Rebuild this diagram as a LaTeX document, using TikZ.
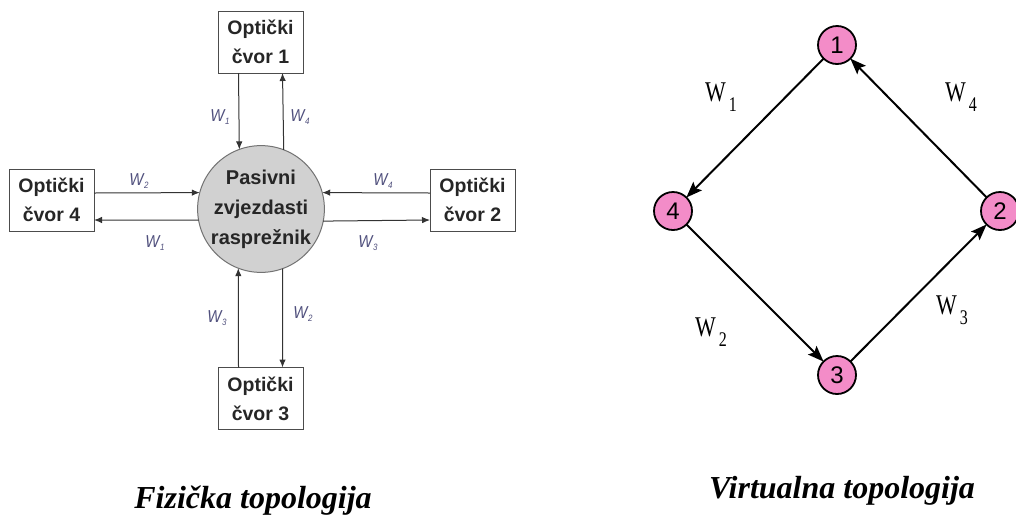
\documentclass[tikz,border=0pt]{standalone}
\usepackage{fontspec}
\setmainfont{Liberation Serif}
\newfontfamily\arialf{Liberation Sans}
\usetikzlibrary{arrows.meta}
\definecolor{pinkn}{RGB}{243,140,200}
\definecolor{wcol}{RGB}{80,80,125}
\newcommand{\wsmall}[1]{\scalebox{1}[1.15]{W\hspace{0.5pt}\raisebox{-2.5pt}{\fontsize{8}{8}\selectfont #1}}}
\newcommand{\wbig}[1]{\scalebox{1}[1.3]{W\hspace{3pt}\raisebox{-8pt}{\fontsize{16}{16}\selectfont #1}}}
\begin{document}
\begin{tikzpicture}[x=1pt,y=-1pt,
  box/.style={draw=black!70, line width=1pt, minimum width=85pt, minimum height=62pt,
    inner sep=0pt, outer sep=0pt, align=center, text=black!85,
    font=\arialf\bfseries\fontsize{19.5}{29}\selectfont},
  hub/.style={circle, draw=black!55, fill=black!18, line width=1pt, minimum size=124pt,
    inner sep=0pt, outer sep=0pt, align=center, text=black!85,
    font=\arialf\bfseries\fontsize{20}{30}\selectfont},
  link/.style={draw=black!80, line width=1pt, -{Latex[length=8pt,width=6.5pt]}},
  wl/.style={text=wcol, inner sep=0pt, font=\arialf\itshape\fontsize{15}{15}\selectfont},
  vnode/.style={circle, draw=black, fill=pinkn, line width=1.8pt, minimum size=38pt,
    inner sep=0pt, outer sep=0pt, font=\arialf\fontsize{24}{24}\selectfont},
  varc/.style={line width=2pt, -{Stealth[length=16pt,width=12pt,inset=3pt]}},
  vl/.style={inner sep=0pt, font=\fontsize{22}{22}\selectfont},
  title/.style={inner sep=0pt, anchor=base, font=\bfseries\itshape\fontsize{32}{32}\selectfont}
]
\useasboundingbox (0,0) rectangle (1016,515);

% Physical topology
\node[hub] (c) at (261,209) {Pasivni\\zvjezdasti\\raspre\v{z}nik};
\node[box] (n1) at (260.5,42) {Opti\v{c}ki\\\v{c}vor 1};
\node[box] (n4) at (51.5,200) {Opti\v{c}ki\\\v{c}vor 4};
\node[box] (n2) at (472.5,200) {Opti\v{c}ki\\\v{c}vor 2};
\node[box] (n3) at (260.5,398.5) {Opti\v{c}ki\\\v{c}vor 3};

\draw[link] ([xshift=-22pt]n1.south) -- (c.110.8);
\draw[link] (c.69.2) -- ([xshift=22pt]n1.south);
\draw[link] ([yshift=7pt]n4.east) -- (c.165);
\draw[link] (c.190.2) -- ([yshift=-20pt]n4.east);
\draw[link] ([yshift=7pt]n2.west) -- (c.15);
\draw[link] (c.349.8) -- ([yshift=-20pt]n2.west);
\draw[link] ([xshift=-22pt]n3.north) -- (c.249.2);
\draw[link] (c.290.8) -- ([xshift=22pt]n3.north);

\node[wl] (l1) at (220,117) {\wsmall{1}};
\node[wl] (l2) at (300,117) {\wsmall{4}};
\node[wl] (l3) at (139,181) {\wsmall{2}};
\node[wl] (l4) at (155,243) {\wsmall{1}};
\node[wl] (l5) at (383,181) {\wsmall{4}};
\node[wl] (l6) at (368,243) {\wsmall{3}};
\node[wl] (l7) at (217,318) {\wsmall{3}};
\node[wl] (l8) at (303,314) {\wsmall{2}};

\node[title] (t1) at (253,508) {Fizi\v{c}ka topologija};

% Virtual topology
\node[vnode] (v1) at (837,45) {1};
\node[vnode] (v2) at (1000,211) {2};
\node[vnode] (v3) at (837,375) {3};
\node[vnode] (v4) at (673,211) {4};

\draw[varc] (v1) -- (v4);
\draw[varc] (v4) -- (v3);
\draw[varc] (v3) -- (v2);
\draw[varc] (v2) -- (v1);

\node[vl] (w1) at (721,97) {\wbig{1}};
\node[vl] (w4) at (961,97) {\wbig{4}};
\node[vl] (w2) at (711,332) {\wbig{2}};
\node[vl] (w3) at (952,310) {\wbig{3}};

\node[title] (t2) at (842,498) {Virtualna topologija};
\end{tikzpicture}
\end{document}
